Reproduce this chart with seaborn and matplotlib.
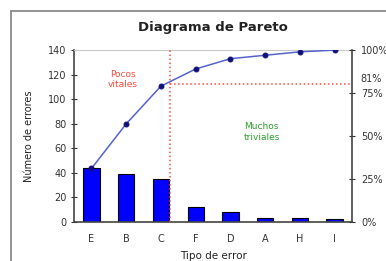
import numpy as np
import pandas as pd
import matplotlib
matplotlib.use("Agg")
import matplotlib.pyplot as plt
import seaborn as sns
from matplotlib.patches import Rectangle

# ---------- data ----------
categories = ["E", "B", "C", "F", "D", "A", "H", "I"]
errors = [44, 39, 35, 12, 8, 3, 3, 2]
cum_pct = [31, 57, 79, 89, 95, 97, 99, 100]
left_ticks = [0, 20, 40, 60, 80, 100, 120, 140]
right_ticks = [0, 25, 50, 75, 100]
right_labels = ["0%", "25%", "50%", "75%", "100%"]
cut_pct = 80
cut_label = "81%"

df = pd.DataFrame({"tipo": categories, "errores": errors, "acum": cum_pct})
df["pos"] = np.arange(len(categories))

sns.set_style("white")
plt.rcParams["font.family"] = ["DejaVu Sans"]

fig = plt.figure(figsize=(3.86, 2.61), dpi=100)
ax = fig.add_axes([0.192, 0.151, 0.720, 0.657])

# outer chart frame (cropped at right/bottom)
fig.patches.append(Rectangle((0.029, -0.2), 1.2, 0.958 + 0.2, transform=fig.transFigure,
                             fill=False, edgecolor="#8a8a8a", linewidth=1.3))

# ---------- bars ----------
sns.barplot(data=df, x="tipo", y="errores", order=categories, color="#0000ff",
            saturation=1, width=0.47, edgecolor="black", linewidth=0.8, ax=ax)
ax.set_ylim(0, 140)
ax.set_xlim(-0.5, len(categories) - 0.5)
ax.set_yticks(left_ticks)
ax.set_xticks(df["pos"])
ax.set_xticklabels(categories)
ax.set_xticks(np.arange(-0.5, len(categories), 1), minor=True)
ax.tick_params(axis="x", which="major", length=0, pad=9, labelsize=7, colors="#333333")
ax.tick_params(axis="x", which="minor", length=5, direction="inout", color="#333333")
ax.tick_params(axis="y", length=5, direction="inout", labelsize=7, colors="#333333", pad=3)
ax.set_xlabel("Tipo de error", fontsize=7.5, color="#222222", labelpad=5)
ax.set_ylabel("Número de errores", fontsize=7, color="#222222", labelpad=10)
ax.set_title("Diagrama de Pareto", fontsize=9.5, fontweight="bold", color="#222222", pad=14)

for s in ["left", "bottom"]:
    ax.spines[s].set_color("#444444")
    ax.spines[s].set_linewidth(1.2)
ax.spines["top"].set_color("#c8c8c8")
ax.spines["right"].set_visible(False)

# ---------- cumulative line on secondary axis ----------
ax2 = ax.twinx()
sns.lineplot(data=df, x="pos", y="acum", color="#5563cc", linewidth=1.1,
             marker="o", markersize=3.5, markerfacecolor="#10107a",
             markeredgecolor="#10107a", ax=ax2)
ax2.set_ylim(0, 100)
ax2.set_xlim(-0.5, len(categories) - 0.5)
ax2.set_yticks(right_ticks)
ax2.set_yticklabels(right_labels)
ax2.tick_params(axis="y", length=5, direction="inout", labelsize=7, colors="#333333", pad=4)
ax2.set_ylabel("")
for s in ["left", "bottom", "top"]:
    ax2.spines[s].set_visible(False)
ax2.spines["right"].set_color("#444444")
ax2.spines["right"].set_linewidth(1.2)

# ---------- pareto cut ----------
x_cut = 2.25
ax2.axvline(x_cut, color="#ff4a3a", linestyle=":", linewidth=1.1)
ax2.plot([x_cut, len(categories) - 0.5], [cut_pct, cut_pct], color="#ff4a3a",
         linestyle=":", linewidth=1.1, clip_on=False)
ax2.text(1.03, 83, cut_label, transform=ax2.get_yaxis_transform(), fontsize=7,
         color="#333333", va="center", ha="left")

ax.text(0.9, 116, "Pocos\nvitales", color="#ff4a3a", fontsize=6.5, ha="center",
        va="center", linespacing=1.2)
ax.text(4.9, 73, "Muchos\ntriviales", color="#2f9e2f", fontsize=6.5, ha="center",
        va="center", linespacing=1.2)

fig.savefig("out.png", dpi=100)
